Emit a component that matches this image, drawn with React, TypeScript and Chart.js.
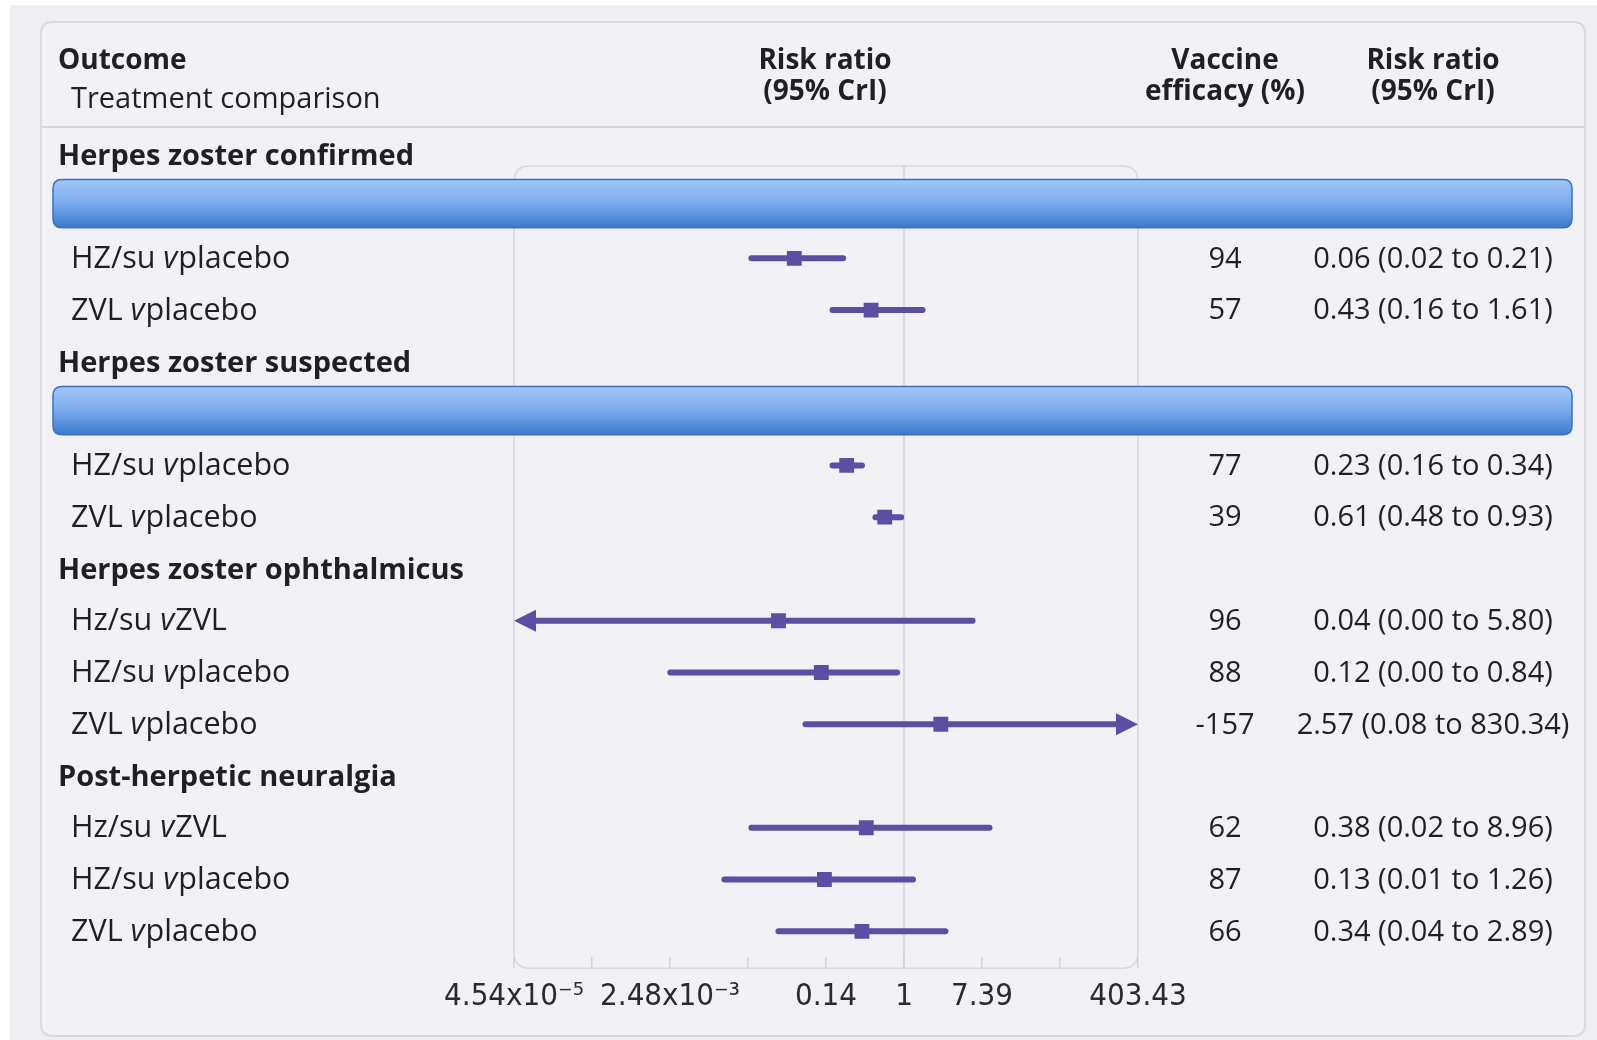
import React, { useEffect, useRef } from 'react';
import { Chart, registerables } from 'chart.js';

Chart.register(...registerables);

// ---------- data ----------
const groupNames = [
  'Herpes zoster confirmed',
  'Herpes zoster suspected',
  'Herpes zoster ophthalmicus',
  'Post-herpetic neuralgia',
];
const groupHasBand = [true, true, false, false];
const comparisonLabels = [
  'HZ/su v placebo',
  'ZVL v placebo',
  'HZ/su v placebo',
  'ZVL v placebo',
  'Hz/su v ZVL',
  'HZ/su v placebo',
  'ZVL v placebo',
  'Hz/su v ZVL',
  'HZ/su v placebo',
  'ZVL v placebo',
];
const comparisonGroup = [0, 0, 1, 1, 2, 2, 2, 3, 3, 3];
const riskRatio = [0.06, 0.43, 0.23, 0.61, 0.04, 0.12, 2.57, 0.38, 0.13, 0.34];
const lowerCrI = [0.02, 0.16, 0.16, 0.48, 0, 0.0025, 0.08, 0.02, 0.01, 0.04];
const upperCrI = [0.21, 1.61, 0.34, 0.93, 5.8, 0.84, 830.34, 8.96, 1.26, 2.89];
const efficacyText = ['94', '57', '77', '39', '96', '88', '-157', '62', '87', '66'];
const riskRatioText = [
  '0.06 (0.02 to 0.21)',
  '0.43 (0.16 to 1.61)',
  '0.23 (0.16 to 0.34)',
  '0.61 (0.48 to 0.93)',
  '0.04 (0.00 to 5.80)',
  '0.12 (0.00 to 0.84)',
  '2.57 (0.08 to 830.34)',
  '0.38 (0.02 to 8.96)',
  '0.13 (0.01 to 1.26)',
  '0.34 (0.04 to 2.89)',
];
const tickLogValues = [-10, -8, -6, -4, -2, 0, 2, 4, 6];
const tickLabels = ['4.54x10⁻⁵', '', '2.48x10⁻³', '', '0.14', '1', '7.39', '', '403.43'];

// ---------- layout rows derived from data ----------
type LRow = { kind: 'group' | 'band' | 'row'; idx: number };
const layoutRows: LRow[] = [];
groupNames.forEach((_, gi) => {
  layoutRows.push({ kind: 'group', idx: gi });
  if (groupHasBand[gi]) layoutRows.push({ kind: 'band', idx: gi });
  comparisonGroup.forEach((cg, ci) => {
    if (cg === gi) layoutRows.push({ kind: 'row', idx: ci });
  });
});
const rowSlot = comparisonLabels.map((_, ci) =>
  layoutRows.findIndex((r) => r.kind === 'row' && r.idx === ci)
);

const PURPLE = '#5a4fa2';
const TEXT = '#1f1f24';
const FONT = "'Open Sans', 'Noto Sans', sans-serif";
const TICK_FONT = "'DejaVu Sans Condensed', 'DejaVu Sans', sans-serif";

function roundRect(ctx: CanvasRenderingContext2D, x: number, y: number, w: number, h: number, r: number) {
  ctx.beginPath();
  ctx.moveTo(x + r, y);
  ctx.lineTo(x + w - r, y);
  ctx.quadraticCurveTo(x + w, y, x + w, y + r);
  ctx.lineTo(x + w, y + h - r);
  ctx.quadraticCurveTo(x + w, y + h, x + w - r, y + h);
  ctx.lineTo(x + r, y + h);
  ctx.quadraticCurveTo(x, y + h, x, y + h - r);
  ctx.lineTo(x, y + r);
  ctx.quadraticCurveTo(x, y, x + r, y);
  ctx.closePath();
}

function drawComparison(ctx: CanvasRenderingContext2D, label: string, x: number, y: number) {
  const parts = label.split(' v ');
  const size = 30.5;
  ctx.textAlign = 'left';
  ctx.font = `${size}px ${FONT}`;
  const first = parts[0] + ' ';
  ctx.fillText(first, x, y);
  let cx = x + ctx.measureText(first).width;
  ctx.font = `italic ${size}px ${FONT}`;
  ctx.fillText('v', cx, y);
  cx += ctx.measureText('v').width + 1;
  ctx.font = `${size}px ${FONT}`;
  ctx.fillText(parts[1], cx, y);
}

const decorPlugin = {
  id: 'forestDecor',
  beforeDraw(chart: any) {
    const ctx: CanvasRenderingContext2D = chart.ctx;
    const W = chart.width;
    const H = chart.height;
    const xs = chart.scales.x;
    const ys = chart.scales.y;
    const area = chart.chartArea;
    ctx.save();
    // page background
    ctx.fillStyle = '#ffffff';
    ctx.fillRect(0, 0, W, H);
    ctx.fillStyle = '#efeff3';
    ctx.fillRect(10, 5, W - 10, H - 5);
    // card
    roundRect(ctx, 41, 22, 1544, 1014, 12);
    ctx.fillStyle = '#f1f1f6';
    ctx.fill();
    ctx.strokeStyle = '#d9d9e0';
    ctx.lineWidth = 2;
    ctx.stroke();

    // header
    ctx.fillStyle = TEXT;
    ctx.textBaseline = 'middle';
    ctx.textAlign = 'left';
    ctx.font = `bold 28px ${FONT}`;
    ctx.fillText('Outcome', 58, 61);
    ctx.font = `29px ${FONT}`;
    ctx.fillText('Treatment comparison', 71, 100);
    ctx.font = `bold 28px ${FONT}`;
    ctx.textAlign = 'center';
    ctx.fillText('Risk ratio', 825, 61);
    ctx.fillText('(95% CrI)', 825, 92);
    ctx.fillText('Vaccine', 1225, 61);
    ctx.fillText('efficacy (%)', 1225, 92);
    ctx.fillText('Risk ratio', 1433, 61);
    ctx.fillText('(95% CrI)', 1433, 92);

    // header separator
    ctx.strokeStyle = '#d5d5dc';
    ctx.lineWidth = 2;
    ctx.beginPath();
    ctx.moveTo(42, 127);
    ctx.lineTo(1584, 127);
    ctx.stroke();

    // plot panel
    const pl = area.left;
    const pr = area.right;
    const pt = area.top + 37;
    const pb = area.bottom + 11;
    roundRect(ctx, pl, pt, pr - pl, pb - pt, 16);
    ctx.strokeStyle = '#d9d9e0';
    ctx.lineWidth = 1.5;
    ctx.stroke();
    // line of no effect
    const x1 = xs.getPixelForValue(1);
    ctx.strokeStyle = '#d2d2da';
    ctx.lineWidth = 1.5;
    ctx.beginPath();
    ctx.moveTo(x1, pt);
    ctx.lineTo(x1, pb);
    ctx.stroke();

    // rows text
    layoutRows.forEach((r, slot) => {
      const y = ys.getPixelForValue(slot) + 1;
      ctx.fillStyle = TEXT;
      if (r.kind === 'group') {
        ctx.textAlign = 'left';
        ctx.font = `bold 29px ${FONT}`;
        ctx.fillText(groupNames[r.idx], 58, y + 1);
      } else if (r.kind === 'row') {
        drawComparison(ctx, comparisonLabels[r.idx], 71, y);
        ctx.textAlign = 'center';
        ctx.font = `29px ${FONT}`;
        ctx.fillText(efficacyText[r.idx], 1225, y);
        ctx.fillText(riskRatioText[r.idx], 1433, y);
      }
    });

    // blue bands
    const slotH = Math.abs(ys.getPixelForValue(1) - ys.getPixelForValue(0));
    layoutRows.forEach((r, slot) => {
      if (r.kind !== 'band') return;
      const y = ys.getPixelForValue(slot) - 3;
      const h = slotH * 0.93;
      const top = y - h / 2;
      const g = ctx.createLinearGradient(0, top, 0, top + h);
      g.addColorStop(0, '#a2c7f8');
      g.addColorStop(0.45, '#7eaeee');
      g.addColorStop(1, '#3c78cb');
      roundRect(ctx, 53, top, 1519, h, 9);
      ctx.fillStyle = g;
      ctx.fill();
      ctx.strokeStyle = '#3a72c0';
      ctx.lineWidth = 1.5;
      ctx.stroke();
    });
    ctx.restore();
  },
  beforeDatasetsDraw(chart: any) {
    const ctx: CanvasRenderingContext2D = chart.ctx;
    const xs = chart.scales.x;
    const ys = chart.scales.y;
    ctx.save();
    ctx.strokeStyle = PURPLE;
    ctx.fillStyle = PURPLE;
    ctx.lineWidth = 6;
    ctx.lineCap = 'round';
    comparisonLabels.forEach((_, i) => {
      const y = ys.getPixelForValue(rowSlot[i]);
      const loArrow = lowerCrI[i] < xs.min;
      const hiArrow = upperCrI[i] > xs.max;
      const xa = xs.getPixelForValue(Math.max(lowerCrI[i], xs.min));
      const xb = xs.getPixelForValue(Math.min(upperCrI[i], xs.max));
      const aw = 22;
      const ah = 11;
      ctx.beginPath();
      ctx.moveTo(loArrow ? xa + aw - 2 : xa, y);
      ctx.lineTo(hiArrow ? xb - aw + 2 : xb, y);
      ctx.stroke();
      if (loArrow) {
        ctx.beginPath();
        ctx.moveTo(xa, y);
        ctx.lineTo(xa + aw, y - ah);
        ctx.lineTo(xa + aw, y + ah);
        ctx.closePath();
        ctx.fill();
      }
      if (hiArrow) {
        ctx.beginPath();
        ctx.moveTo(xb, y);
        ctx.lineTo(xb - aw, y - ah);
        ctx.lineTo(xb - aw, y + ah);
        ctx.closePath();
        ctx.fill();
      }
    });
    ctx.restore();
  },
};

export default function App() {
  const ref = useRef<HTMLCanvasElement | null>(null);
  useEffect(() => {
    if (!ref.current) return;
    const chart = new Chart(ref.current, {
      type: 'scatter',
      data: {
        datasets: [
          {
            data: riskRatio.map((v, i) => ({ x: v, y: rowSlot[i] })),
            pointStyle: 'rect',
            pointRadius: 10.5,
            pointHoverRadius: 10.5,
            backgroundColor: PURPLE,
            borderColor: PURPLE,
            borderWidth: 0,
          },
        ],
      },
      options: {
        responsive: false,
        animation: false,
        devicePixelRatio: 1,
        events: [],
        layout: { padding: { left: 514, right: 459, top: 128.9, bottom: 14.6 } },
        plugins: { legend: { display: false }, tooltip: { enabled: false } },
        scales: {
          x: {
            type: 'logarithmic',
            min: Math.exp(-10),
            max: Math.exp(6),
            afterBuildTicks: (s: any) => {
              s.ticks = tickLogValues.map((v) => ({ value: Math.exp(v) }));
            },
            ticks: {
              autoSkip: false,
              maxRotation: 0,
              minRotation: 0,
              padding: 10,
              color: '#2a2a30',
              font: { family: TICK_FONT, size: 31 },
              callback: (_v: any, i: number) => tickLabels[i],
            },
            grid: {
              drawOnChartArea: false,
              drawTicks: true,
              tickLength: 11,
              color: '#d4d4dc',
              lineWidth: 1.5,
            },
            border: { display: false },
          },
          y: {
            type: 'linear',
            min: -0.5,
            max: layoutRows.length - 0.5,
            reverse: true,
            display: false,
          },
        },
      },
      plugins: [decorPlugin],
    } as any);
    return () => chart.destroy();
  }, []);
  return (
    <div style={{ position: 'fixed', left: 0, top: 0, width: 1597, height: 1040 }}>
      <canvas ref={ref} width={1597} height={1040} style={{ width: 1597, height: 1040 }} />
    </div>
  );
}
